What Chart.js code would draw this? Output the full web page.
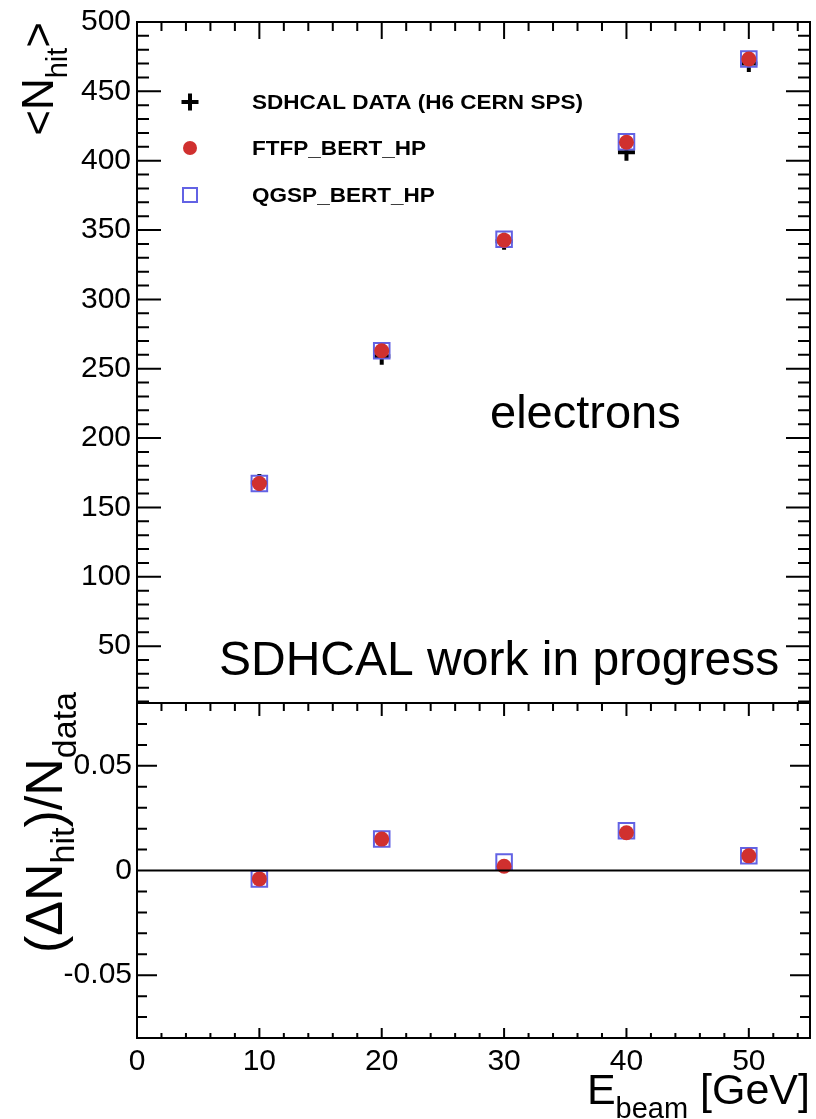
<!DOCTYPE html>
<html>
<head>
<meta charset="utf-8">
<script src="https://cdn.jsdelivr.net/npm/chart.js@4.4.1/dist/chart.umd.min.js"></script>
<style>
  html, body { margin: 0; padding: 0; background: #fff; }
  #wrap { position: relative; width: 816px; height: 1119px; overflow: hidden; }
  canvas { position: absolute; left: 0; }
  #topChart { top: 0; }
  #ratioChart { top: 690px; }
</style>
</head>
<body>
<div id="wrap">
  <canvas id="topChart" width="816" height="704"></canvas>
  <canvas id="ratioChart" width="816" height="429"></canvas>
</div>
<script>
// beam energies (GeV)
const energies = [10, 20, 30, 40, 50];
// mean number of hits
const nhitData = [168, 259, 342, 406, 470];
const nhitFtfp = [167.3, 263, 342.7, 413.3, 473.3];
const nhitQgsp = [167.3, 263, 343.4, 413.7, 473.3];
// (sim - data) / data
const ratioFtfp = [-0.004, 0.015, 0.002, 0.018, 0.007];
const ratioQgsp = [-0.004, 0.015, 0.004, 0.019, 0.007];

const legendNames = ['SDHCAL DATA (H6 CERN SPS)', 'FTFP_BERT_HP', 'QGSP_BERT_HP'];

const RED = '#d0302f';
const BLUE = '#6262e4';
const FONT = '"Liberation Sans", Arial, Helvetica, sans-serif';

const pts = (ys) => energies.map((e, i) => ({ x: e, y: ys[i] }));

// ROOT style frame with inward ticks on all sides
const frameTicks = {
  id: 'frameTicks',
  afterDraw(chart, args, o) {
    const ctx = chart.ctx, a = chart.chartArea;
    const xs = chart.scales.x, ys = chart.scales.y;
    ctx.save();
    ctx.strokeStyle = '#000';
    ctx.lineWidth = 2;
    ctx.beginPath();
    // y ticks left + right
    let k0 = Math.ceil(ys.min / o.yMinor - 1e-6), k1 = Math.floor(ys.max / o.yMinor + 1e-6);
    for (let k = k0; k <= k1; k++) {
      const py = ys.getPixelForValue(k * o.yMinor);
      const len = (k % o.yEvery === 0) ? o.yMajorLen : o.yMinorLen;
      ctx.moveTo(a.left, py); ctx.lineTo(a.left + len, py);
      ctx.moveTo(a.right, py); ctx.lineTo(a.right - len, py);
    }
    // x ticks top + bottom
    k0 = Math.ceil(xs.min / o.xMinor - 1e-6); k1 = Math.floor(xs.max / o.xMinor + 1e-6);
    for (let k = k0; k <= k1; k++) {
      const px = xs.getPixelForValue(k * o.xMinor);
      const major = k % o.xEvery === 0;
      const lt = major ? o.topMajorLen : o.topMinorLen;
      const lb = major ? o.botMajorLen : o.botMinorLen;
      if (lt) { ctx.moveTo(px, a.top); ctx.lineTo(px, a.top + lt); }
      if (lb) { ctx.moveTo(px, a.bottom); ctx.lineTo(px, a.bottom - lb); }
    }
    if (o.zeroLine) {
      const pz = ys.getPixelForValue(0);
      ctx.moveTo(a.left, pz); ctx.lineTo(a.right, pz);
    }
    ctx.stroke();
    ctx.strokeRect(a.left, a.top, a.width, a.height);
    ctx.restore();
  }
};

// text pieces with sub-scripts: [text, size, dy]
function drawParts(ctx, parts, x, y) {
  for (const [t, size, dy] of parts) {
    ctx.font = size + 'px ' + FONT;
    ctx.fillText(t, x, y + dy);
    x += ctx.measureText(t).width;
  }
}
function partsWidth(ctx, parts) {
  let w = 0;
  for (const [t, size] of parts) { ctx.font = size + 'px ' + FONT; w += ctx.measureText(t).width; }
  return w;
}

const topText = {
  id: 'topText',
  afterDraw(chart) {
    const ctx = chart.ctx;
    ctx.save();
    ctx.fillStyle = '#000';
    ctx.textBaseline = 'alphabetic';

    // y title <N_hit>
    const yt = [['<N', 44, 0], ['hit', 29, 14], ['>', 44, 0]];
    ctx.save();
    ctx.translate(53, 22);
    ctx.rotate(-Math.PI / 2);
    drawParts(ctx, yt, -partsWidth(ctx, yt), 0);
    ctx.restore();

    // legend
    const rows = [102, 148, 195];
    const mx = 190;
    ctx.strokeStyle = '#000';
    ctx.lineWidth = 4;
    ctx.beginPath();
    ctx.moveTo(mx - 8.5, rows[0]); ctx.lineTo(mx + 8.5, rows[0]);
    ctx.moveTo(mx, rows[0] - 8.5); ctx.lineTo(mx, rows[0] + 8.5);
    ctx.stroke();
    ctx.fillStyle = RED;
    ctx.beginPath(); ctx.arc(mx, rows[1], 7, 0, Math.PI * 2); ctx.fill();
    ctx.strokeStyle = BLUE; ctx.lineWidth = 2;
    ctx.strokeRect(mx - 7, rows[2] - 7, 14, 14);

    ctx.fillStyle = '#000';
    ctx.font = 'bold 20px ' + FONT;
    ctx.textBaseline = 'middle';
    const sx = 331 / ctx.measureText(legendNames[0]).width;
    legendNames.forEach((name, i) => {
      ctx.save();
      ctx.translate(252, rows[i] + 1);
      ctx.scale(sx, 1);
      ctx.fillText(name, 0, 0);
      ctx.restore();
    });

    ctx.textBaseline = 'alphabetic';
    ctx.font = '47px ' + FONT;
    ctx.fillText('electrons', 490, 428);
    ctx.font = '48px ' + FONT;
    ctx.fillText('SDHCAL work in progress', 219, 675);
    ctx.restore();
  }
};

const bottomText = {
  id: 'bottomText',
  afterDraw(chart) {
    const ctx = chart.ctx;
    const off = 690;
    ctx.save();
    ctx.fillStyle = '#000';
    ctx.textBaseline = 'alphabetic';

    const yt = [['(\u0394N', 52, 0], ['hit', 34, 12], [')/N', 52, 0], ['data', 34, 14]];
    ctx.save();
    ctx.translate(62, 692 - off);
    ctx.rotate(-Math.PI / 2);
    drawParts(ctx, yt, -partsWidth(ctx, yt), 0);
    ctx.restore();

    const xt = [['E', 43, 0], ['beam', 29, 14], [' [GeV]', 43, 0]];
    drawParts(ctx, xt, 810 - partsWidth(ctx, xt), 1104 - off);
    ctx.restore();
  }
};

const tickFont = { family: FONT, size: 30 };
const noPad = (s) => { s.paddingTop = 0; s.paddingBottom = 0; s.paddingLeft = 0; s.paddingRight = 0; };

new Chart(document.getElementById('topChart'), {
  type: 'scatter',
  data: {
    datasets: [
      { label: legendNames[1], data: pts(nhitFtfp), order: 1, pointStyle: 'circle', pointRadius: 7.5,
        pointBackgroundColor: RED, pointBorderColor: RED, pointBorderWidth: 0 },
      { label: legendNames[2], data: pts(nhitQgsp), order: 2, pointStyle: 'rect', pointRadius: 11,
        pointBackgroundColor: 'rgba(0,0,0,0)', pointBorderColor: BLUE, pointBorderWidth: 2 },
      { label: legendNames[0], data: pts(nhitData), order: 3, pointStyle: 'cross', pointRadius: 8.5,
        pointBorderColor: '#000', pointBorderWidth: 4 }
    ]
  },
  options: {
    responsive: false,
    animation: false,
    layout: { padding: { top: 22, right: 6, bottom: 1, left: 0 }, autoPadding: false },
    plugins: {
      legend: { display: false }, tooltip: { enabled: false },
      frameTicks: { yMinor: 10, yEvery: 5, yMajorLen: 24, yMinorLen: 12,
        xMinor: 2, xEvery: 5, topMajorLen: 17, topMinorLen: 9, botMajorLen: 0, botMinorLen: 0 }
    },
    scales: {
      x: { type: 'linear', min: 0, max: 55, display: false },
      y: {
        min: 9, max: 500,
        grid: { display: false, drawTicks: false }, border: { display: false },
        ticks: { stepSize: 50, includeBounds: false, font: tickFont, color: '#000', padding: 6 },
        afterFit: (s) => { s.width = 137; noPad(s); }
      }
    }
  },
  plugins: [frameTicks, topText]
});

new Chart(document.getElementById('ratioChart'), {
  type: 'scatter',
  data: {
    datasets: [
      { label: legendNames[1], data: pts(ratioFtfp), order: 1, pointStyle: 'circle', pointRadius: 7.5,
        pointBackgroundColor: RED, pointBorderColor: RED, pointBorderWidth: 0 },
      { label: legendNames[2], data: pts(ratioQgsp), order: 2, pointStyle: 'rect', pointRadius: 11,
        pointBackgroundColor: 'rgba(0,0,0,0)', pointBorderColor: BLUE, pointBorderWidth: 2 }
    ]
  },
  options: {
    responsive: false,
    animation: false,
    layout: { padding: { top: 13, right: 6, bottom: 0, left: 0 }, autoPadding: false },
    plugins: {
      legend: { display: false }, tooltip: { enabled: false },
      frameTicks: { yMinor: 0.01, yEvery: 5, yMajorLen: 20, yMinorLen: 10,
        xMinor: 2, xEvery: 5, topMajorLen: 13, topMinorLen: 8, botMajorLen: 10, botMinorLen: 5, zeroLine: true }
    },
    scales: {
      x: {
        type: 'linear', min: 0, max: 55,
        grid: { display: false, drawTicks: false }, border: { display: false },
        ticks: { stepSize: 10, includeBounds: false, font: tickFont, color: '#000', padding: 6, maxRotation: 0 },
        afterFit: (s) => { s.height = 81; noPad(s); }
      },
      y: {
        min: -0.08, max: 0.08,
        grid: { display: false, drawTicks: false }, border: { display: false },
        ticks: { stepSize: 0.05, includeBounds: false, font: tickFont, color: '#000', padding: 5,
          callback: (v) => (Math.abs(v) < 1e-9 ? '0' : v.toFixed(2)) },
        afterFit: (s) => { s.width = 137; noPad(s); }
      }
    }
  },
  plugins: [frameTicks, bottomText]
});
</script>
</body>
</html>
